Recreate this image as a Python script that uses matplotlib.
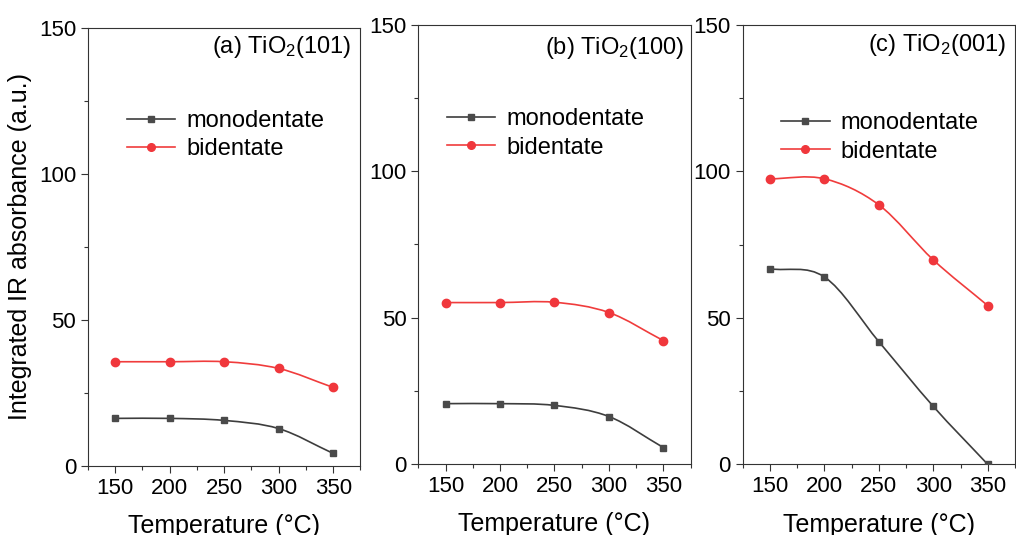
import matplotlib
matplotlib.use('Agg')
import matplotlib.pyplot as plt
from matplotlib.path import Path
from matplotlib.patches import PathPatch
from matplotlib.lines import Line2D
from matplotlib.ticker import MultipleLocator

plt.rcParams['font.family'] = ['Liberation Sans', 'DejaVu Sans']
plt.rcParams['mathtext.default'] = 'regular'

temps = [150, 200, 250, 300, 350]
titles = ['(a) TiO$_2$(101)', '(b) TiO$_2$(100)', '(c) TiO$_2$(001)']
mono = [
    [16.3, 16.3, 15.6, 12.8, 4.3],
    [20.6, 20.6, 20.0, 16.2, 5.6],
    [66.8, 64.0, 41.9, 19.8, 0.0],
]
bi = [
    [35.7, 35.7, 35.7, 33.4, 26.9],
    [55.1, 55.1, 55.2, 51.7, 42.1],
    [97.5, 97.5, 88.6, 69.8, 54.2],
]

mono_col = '#3d3d3d'
mono_mk = '#4a4a4a'
bi_col = '#f03c3c'
bi_mk = '#f0373c'

# axes boxes in figure fraction
boxes = [
    [0.0866, 0.129, 0.2682, 0.8187],
    [0.4117, 0.1327, 0.2681, 0.8215],
    [0.7310, 0.1318, 0.2681, 0.8215],
]
leg_pos = [(0.143, 0.813), (0.104, 0.810), (0.141, 0.802)]
title_pos = [(0.968, 0.957), (0.975, 0.947), (0.967, 0.955)]


def smooth_path(xs, ys):
    # cubic bezier segments through the points (catmull-rom tangents)
    n = len(xs)
    m = []
    for i in range(n):
        if i == 0:
            m.append(ys[1] - ys[0])
        elif i == n - 1:
            m.append(ys[-1] - ys[-2])
        else:
            m.append((ys[i + 1] - ys[i - 1]) / 2)
    verts = [(xs[0], ys[0])]
    codes = [Path.MOVETO]
    for i in range(n - 1):
        dx = (xs[i + 1] - xs[i]) / 3
        verts += [(xs[i] + dx, ys[i] + m[i] / 3),
                  (xs[i + 1] - dx, ys[i + 1] - m[i + 1] / 3),
                  (xs[i + 1], ys[i + 1])]
        codes += [Path.CURVE4] * 3
    return Path(verts, codes)


fig = plt.figure(figsize=(10.16, 5.35), dpi=100)

for k in range(3):
    ax = fig.add_axes(boxes[k])
    for ys, lc, mc, mk, ms in [(mono[k], mono_col, mono_mk, 's', 5),
                               (bi[k], bi_col, bi_mk, 'o', 6)]:
        ax.add_patch(PathPatch(smooth_path(temps, ys), fc='none', ec=lc, lw=1.2))
        ax.plot(temps, ys, ls='none', marker=mk, ms=ms, color=mc, zorder=3)
    ax.set_xlim(125, 375)
    ax.set_ylim(0, 150)
    ax.xaxis.set_minor_locator(MultipleLocator(25))
    ax.yaxis.set_major_locator(MultipleLocator(50))
    ax.yaxis.set_minor_locator(MultipleLocator(25))
    ax.set_xticks(temps)
    ax.tick_params(which='major', direction='out', length=5, width=0.8,
                   labelsize=16, pad=3.5, color='#333333')
    ax.tick_params(which='minor', direction='out', length=3, width=0.8,
                   color='#333333')
    ax.tick_params(top=False, right=False, which='both')
    for s in ax.spines.values():
        s.set_linewidth(0.8)
        s.set_color('#333333')
    ax.set_xlabel('Temperature (°C)', fontsize=18, labelpad=11)
    if k == 0:
        ax.set_ylabel('Integrated IR absorbance (a.u.)', fontsize=18, labelpad=5)
    ax.text(title_pos[k][0], title_pos[k][1], titles[k], transform=ax.transAxes,
            ha='right', va='center', fontsize=17)
    handles = [Line2D([], [], color=mono_col, lw=1.2, marker='s', ms=4.5, mfc=mono_mk, mec=mono_mk),
               Line2D([], [], color=bi_col, lw=1.2, marker='o', ms=5.5, mfc=bi_mk, mec=bi_mk)]
    ax.legend(handles, ['monodentate', 'bidentate'], loc='upper left',
              bbox_to_anchor=leg_pos[k], frameon=False, fontsize=17,
              borderaxespad=0, borderpad=0, handlelength=2.05,
              handletextpad=0.47, labelspacing=0.28, numpoints=1)

fig.savefig('out.png', dpi=100)
